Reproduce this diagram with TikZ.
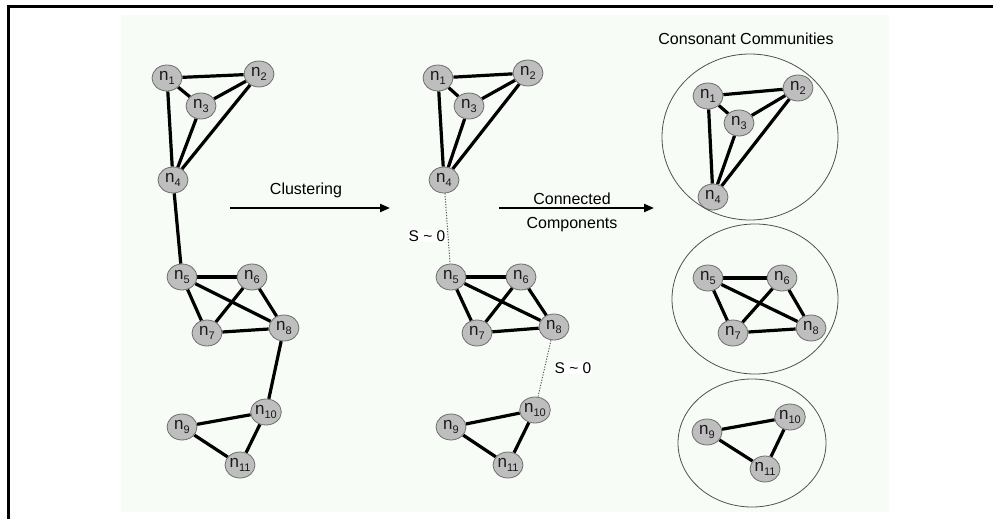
\documentclass[tikz,border=0pt]{standalone}
\usepackage{fontspec}
\setmainfont{Liberation Sans}
\usetikzlibrary{shapes.geometric,arrows.meta}
\definecolor{panelbg}{RGB}{248,252,247}
\definecolor{nodefill}{RGB}{190,190,190}
\definecolor{nodeborder}{RGB}{110,110,110}
\definecolor{nodetext}{RGB}{25,25,25}
\definecolor{ringcol}{RGB}{80,80,80}
\newcommand\nn[1]{n\raisebox{-3.5pt}{\fontsize{11}{11}\selectfont #1}}
\pgfdeclarelayer{bglayer}
\pgfdeclarelayer{edgelayer}
\pgfsetlayers{bglayer,edgelayer,main}
\tikzset{
  gnode/.style={ellipse, draw=nodeborder, line width=0.8pt, fill=nodefill,
    minimum width=30pt, minimum height=26pt, inner sep=0pt,
    font=\fontsize{17}{17}\selectfont, text=nodetext},
  gedge/.style={line width=3.2pt, black},
  weak/.style={line width=1pt, black!65, dash pattern=on 1.2pt off 1.5pt},
  lbl/.style={font=\fontsize{16}{16}\selectfont, text=black, inner sep=1pt},
  slbl/.style={font=\fontsize{15.5}{15.5}\selectfont, text=black, fill=white, inner sep=1pt},
  flow/.style={line width=2.2pt, black, -{Triangle[length=10pt,width=8pt]}},
  ring/.style={draw=ringcol, line width=0.8pt, ellipse}
}
\begin{document}
\begin{tikzpicture}[x=1pt,y=-1pt]
\useasboundingbox (0,0) rectangle (993,519);
\begin{pgfonlayer}{bglayer}
\fill[white] (0,0) rectangle (993,519);
\fill[panelbg] (121,15) rectangle (889,512);
\draw[line width=3.3pt] (7,6.3) -- (993,6.3);
\draw[line width=3.3pt] (8.4,4.65) -- (8.4,519);
\end{pgfonlayer}

% ---------- left graph ----------
\node[gnode] (a1) at (167,78) {\nn{1}};
\node[gnode] (a2) at (259,74) {\nn{2}};
\node[gnode] (a3) at (201,106) {\nn{3}};
\node[gnode] (a4) at (173,180) {\nn{4}};
\node[gnode] (a5) at (182,277) {\nn{5}};
\node[gnode] (a6) at (252,277) {\nn{6}};
\node[gnode] (a7) at (207,333) {\nn{7}};
\node[gnode] (a8) at (284,328) {\nn{8}};
\node[gnode] (a9) at (182,427) {\nn{9}};
\node[gnode] (a10) at (266,412) {\nn{10}};
\node[gnode] (a11) at (240,465) {\nn{11}};

% ---------- middle graph ----------
\node[gnode] (b1) at (438,78) {\nn{1}};
\node[gnode] (b2) at (528,73) {\nn{2}};
\node[gnode] (b3) at (469,106) {\nn{3}};
\node[gnode] (b4) at (444,180) {\nn{4}};
\node[gnode] (b5) at (451,277) {\nn{5}};
\node[gnode] (b6) at (521,277) {\nn{6}};
\node[gnode] (b7) at (477,333) {\nn{7}};
\node[gnode] (b8) at (554,327) {\nn{8}};
\node[gnode] (b9) at (451,427) {\nn{9}};
\node[gnode] (b10) at (535,410) {\nn{10}};
\node[gnode] (b11) at (508,465) {\nn{11}};

% ---------- right graph ----------
\node[gnode] (c1) at (708,96) {\nn{1}};
\node[gnode] (c2) at (798,88) {\nn{2}};
\node[gnode] (c3) at (739,123) {\nn{3}};
\node[gnode] (c4) at (713,197) {\nn{4}};
\node[gnode] (c5) at (708,278) {\nn{5}};
\node[gnode] (c6) at (782,278) {\nn{6}};
\node[gnode] (c7) at (733,333) {\nn{7}};
\node[gnode] (c8) at (811,328) {\nn{8}};
\node[gnode] (c9) at (707,432) {\nn{9}};
\node[gnode] (c10) at (790,417) {\nn{10}};
\node[gnode] (c11) at (765,469) {\nn{11}};

% community rings
\node[ring, minimum width=176pt, minimum height=166pt] (r1) at (750,137) {};
\node[ring, minimum width=166pt, minimum height=150pt] (r2) at (755,299) {};
\node[ring, minimum width=148pt, minimum height=128pt] (r3) at (752,443) {};

\begin{pgfonlayer}{edgelayer}
\foreach \p in {a,b,c}{
  \draw[gedge] (\p1) -- (\p2);
  \draw[gedge] (\p1) -- (\p3);
  \draw[gedge] (\p3) -- (\p2);
  \draw[gedge] (\p1) -- (\p4);
  \draw[gedge] (\p3) -- (\p4);
  \draw[gedge] (\p2) -- (\p4);
  \draw[gedge] (\p5) -- (\p6);
  \draw[gedge] (\p5) -- (\p7);
  \draw[gedge] (\p5) -- (\p8);
  \draw[gedge] (\p6) -- (\p7);
  \draw[gedge] (\p6) -- (\p8);
  \draw[gedge] (\p7) -- (\p8);
  \draw[gedge] (\p10) -- (\p9);
  \draw[gedge] (\p9) -- (\p11);
  \draw[gedge] (\p10) -- (\p11);
}
\draw[gedge] (a4) -- (a5);
\draw[gedge] (a8) -- (a10);
\draw[weak] (b4) -- (b5);
\draw[weak] (b8) -- (b10);
\end{pgfonlayer}

% labels
\node[slbl] (s1) at (427,236) {S \char`~\ 0};
\node[slbl] (s2) at (573,368) {S \char`~\ 0};

\coordinate (cl0) at (230,208);
\coordinate (cl1) at (390,208);
\draw[flow] (cl0) -- (cl1);
\node[lbl] (clt) at (306,190) {Clustering};

\coordinate (cc0) at (499,208);
\coordinate (cc1) at (654,208);
\draw[flow] (cc0) -- (cc1);
\node[lbl] (cct1) at (572,199) {Connected};
\node[lbl] (cct2) at (572,225) {Components};

\node[lbl] (title) at (746,39) {Consonant Communities};
\end{tikzpicture}
\end{document}
